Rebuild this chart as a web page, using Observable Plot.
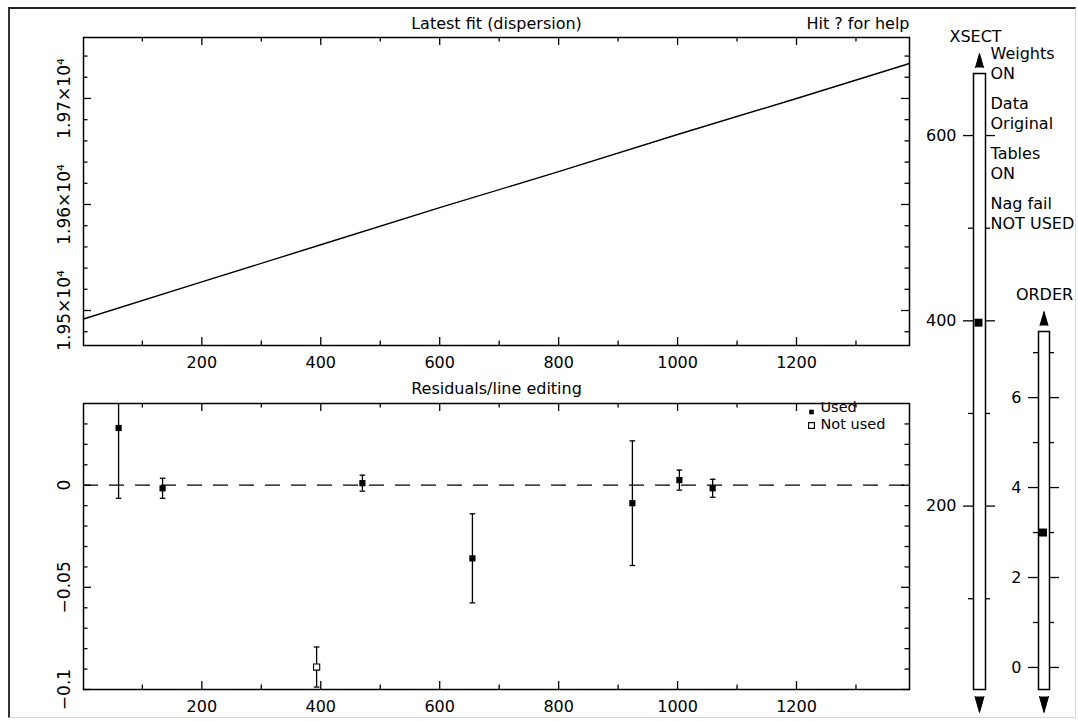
<!DOCTYPE html>
<html>
<head>
<meta charset="utf-8">
<script src="https://cdn.jsdelivr.net/npm/d3@7"></script>
<script src="https://cdn.jsdelivr.net/npm/@observablehq/plot@0.6"></script>
<style>
  body { margin: 0; background: #fff; }
  #chart { position: relative; width: 1078px; height: 721px; background: #fff; overflow: hidden; }
  #chart svg { position: absolute; left: 0; top: 0; }
  #border {
    position: absolute; left: 8px; top: 7px; width: 1068px; height: 711px; box-sizing: border-box;
    border-top: 2px solid #222; border-left: 2px solid #333;
    border-right: 1px solid #d8d8d8; border-bottom: 1px solid #d8d8d8;
  }
</style>
</head>
<body>
<div id="chart"><div id="border"></div></div>
<script>
// ---- dispersion fit (pixel -> wavelength) ----
const fitPixel = [1, 200, 400, 600, 800, 1000, 1200, 1390];
const fitWave = [19492, 19527, 19562, 19597, 19631, 19666, 19700, 19733];

// ---- arc-line residuals ----
const linePixel = [60, 134, 393, 470, 655, 924, 1003, 1059];
const lineResidual = [0.028, -0.0015, -0.089, 0.001, -0.0358, -0.0088, 0.0025, -0.0015];
const lineError = [0.0344, 0.0049, 0.0098, 0.0039, 0.0218, 0.0305, 0.0049, 0.0044];
const lineUsed = [true, true, false, true, true, true, true, true];

// ---- axis ticks ----
const pixelMajor = [200, 400, 600, 800, 1000, 1200];
const pixelMinor = [100, 300, 500, 700, 900, 1100, 1300];
const waveMajor = [19500, 19600, 19700];
const waveLabels = ["1.95×10⁴", "1.96×10⁴", "1.97×10⁴"];
const waveMinor = [19480, 19520, 19540, 19560, 19580, 19620, 19640, 19660, 19680, 19720, 19740];
const residMajor = [0, -0.05, -0.1];
const residLabels = ["0", "−0.05", "−0.1"];
const residMinor = [0.03, 0.02, 0.01, -0.01, -0.02, -0.03, -0.04, -0.06, -0.07, -0.08, -0.09];

// ---- side sliders ----
const xsectMajor = [200, 400, 600];
const xsectMinor = [100, 300, 500];
const xsectValue = 398;
const orderMajor = [0, 2, 4, 6];
const orderMinor = [1, 3, 5, 7];
const orderValue = 3;
const statusLines = [["Weights", "ON"], ["Data", "Original"], ["Tables", "ON"], ["Nag fail", "NOT USED"]];

const fitTable = fitPixel.map((p, i) => ({pixel: p, wave: fitWave[i]}));
const lineTable = linePixel.map((p, i) => ({pixel: p, resid: lineResidual[i], err: lineError[i], used: lineUsed[i]}));

const W = 1078, H = 721;
const PANEL_L = 83, PANEL_R = 909;
const style = {background: "transparent", fontFamily: "'DejaVu Sans', sans-serif", fontSize: "16px", color: "black", overflow: "visible"};
const SW = 1.3;

// inward ticks on all four sides of a panel
function panelTicks(xMaj, xMin, yMaj, yMin, fw, fh) {
  const MAJ = 8, MIN = 4.5;
  return [
    Plot.ruleX(xMaj, {x: d => d, insetTop: fh - MAJ, strokeWidth: SW}),
    Plot.ruleX(xMaj, {x: d => d, insetBottom: fh - MAJ, strokeWidth: SW}),
    Plot.ruleX(xMin, {x: d => d, insetTop: fh - MIN, strokeWidth: SW}),
    Plot.ruleX(xMin, {x: d => d, insetBottom: fh - MIN, strokeWidth: SW}),
    Plot.ruleY(yMaj, {y: d => d, insetRight: fw - MAJ, strokeWidth: SW}),
    Plot.ruleY(yMaj, {y: d => d, insetLeft: fw - MAJ, strokeWidth: SW}),
    Plot.ruleY(yMin, {y: d => d, insetRight: fw - MIN, strokeWidth: SW}),
    Plot.ruleY(yMin, {y: d => d, insetLeft: fw - MIN, strokeWidth: SW})
  ];
}

const chart = document.getElementById("chart");

// ---- upper panel: latest dispersion fit ----
{
  const top = 37, bottom = 345;
  chart.appendChild(Plot.plot({
    width: W, height: H,
    marginLeft: PANEL_L, marginRight: W - PANEL_R, marginTop: top, marginBottom: H - bottom,
    x: {domain: [1, 1390], axis: null},
    y: {domain: [19467, 19757.5], axis: null},
    style,
    marks: [
      Plot.line(fitTable, {x: "pixel", y: "wave", strokeWidth: 1.4}),
      ...panelTicks(pixelMajor, pixelMinor, waveMajor, waveMinor, PANEL_R - PANEL_L, bottom - top),
      Plot.frame({strokeWidth: 1.5}),
      Plot.text(pixelMajor, {x: d => d, text: d => String(d), frameAnchor: "bottom", dy: 17, lineAnchor: "middle"}),
      Plot.text(waveMajor, {y: d => d, text: (d, i) => waveLabels[i], frameAnchor: "left", dx: -18.5, rotate: -90, textAnchor: "middle", lineAnchor: "middle", fontSize: 17}),
      Plot.text(["Latest fit (dispersion)"], {text: d => d, frameAnchor: "top", dy: -13.5, lineAnchor: "middle"}),
      Plot.text(["Hit ? for help"], {text: d => d, frameAnchor: "top-right", textAnchor: "end", dy: -13.5, lineAnchor: "middle"})
    ]
  }));
}

// ---- lower panel: residuals / line editing ----
{
  const top = 403, bottom = 689;
  const cap = {draw(ctx) { ctx.moveTo(-2.8, 0); ctx.lineTo(2.8, 0); }};
  chart.appendChild(Plot.plot({
    width: W, height: H,
    marginLeft: PANEL_L, marginRight: W - PANEL_R, marginTop: top, marginBottom: H - bottom,
    x: {domain: [1, 1390], axis: null},
    y: {domain: [-0.1, 0.04], axis: null},
    style,
    marks: [
      Plot.ruleY([0], {strokeDasharray: "15 11", strokeWidth: SW}),
      Plot.ruleX(lineTable, {x: "pixel", y1: d => d.resid - d.err, y2: d => d.resid + d.err, strokeWidth: SW, clip: true}),
      Plot.dot(lineTable, {x: "pixel", y: d => d.resid - d.err, symbol: cap, stroke: "black", fill: "none", strokeWidth: SW, clip: true}),
      Plot.dot(lineTable, {x: "pixel", y: d => d.resid + d.err, symbol: cap, stroke: "black", fill: "none", strokeWidth: SW, clip: true}),
      Plot.dot(lineTable.filter(d => d.used), {x: "pixel", y: "resid", symbol: "square", r: 3.5, fill: "black"}),
      Plot.dot(lineTable.filter(d => !d.used), {x: "pixel", y: "resid", symbol: "square", r: 3.5, fill: "white", stroke: "black", strokeWidth: 1.1}),
      ...panelTicks(pixelMajor, pixelMinor, residMajor, residMinor, PANEL_R - PANEL_L, bottom - top),
      Plot.frame({strokeWidth: 1.5}),
      Plot.text(pixelMajor, {x: d => d, text: d => String(d), frameAnchor: "bottom", dy: 17, lineAnchor: "middle"}),
      Plot.text(residMajor, {y: d => d, text: (d, i) => residLabels[i], frameAnchor: "left", dx: -18.5, rotate: -90, textAnchor: "middle", lineAnchor: "middle", fontSize: 17}),
      Plot.text(["Residuals/line editing"], {text: d => d, frameAnchor: "top", dy: -14.5, lineAnchor: "middle"}),
      // key
      Plot.dot(["Used"], {frameAnchor: "top-right", dx: -98, dy: 8.5, symbol: "square", r: 2.6, fill: "black"}),
      Plot.text(["Used"], {text: d => d, frameAnchor: "top-right", textAnchor: "start", dx: -89, dy: 3.5, lineAnchor: "middle", fontSize: 14.5}),
      Plot.dot(["Not used"], {frameAnchor: "top-right", dx: -98, dy: 22, symbol: "square", r: 3.3, fill: "white", stroke: "black", strokeWidth: 1.1}),
      Plot.text(["Not used"], {text: d => d, frameAnchor: "top-right", textAnchor: "start", dx: -89, dy: 20.5, lineAnchor: "middle", fontSize: 14.5})
    ]
  }));
}

// slider: a bar with outward ticks, a position marker and scroll arrows
function slider({left, right, top, bottom, domain, major, minor, value, title, titleDx, extra = []}) {
  const arrow = {frameAnchor: "top", anchor: "start", shape: "spike", r: 4, length: 14, fill: "black", stroke: "black", strokeWidth: 1};
  return Plot.plot({
    width: W, height: H,
    marginLeft: left, marginRight: W - right, marginTop: top, marginBottom: H - bottom,
    y: {domain, axis: null},
    style,
    marks: [
      Plot.frame({stroke: "black", strokeWidth: 1.5, fill: "white"}),
      Plot.ruleY(major, {y: d => d, insetLeft: -10, insetRight: right - left, strokeWidth: SW}),
      Plot.ruleY(major, {y: d => d, insetLeft: right - left, insetRight: -10, strokeWidth: SW}),
      Plot.ruleY(minor, {y: d => d, insetLeft: -5, insetRight: right - left, strokeWidth: SW}),
      Plot.ruleY(minor, {y: d => d, insetLeft: right - left, insetRight: -5, strokeWidth: SW}),
      Plot.text(major, {y: d => d, text: d => String(d), frameAnchor: "left", textAnchor: "end", dx: -17, lineAnchor: "middle"}),
      Plot.dot([value], {y: d => d, symbol: "square", r: 4.5, fill: "black", dx: -1}),
      Plot.vector([0], {...arrow, dy: -6}),
      Plot.vector([0], {...arrow, frameAnchor: "bottom", rotate: 180, length: 16, r: 4.5, dy: 7}),
      Plot.text([title], {text: d => d, frameAnchor: "top", dx: titleDx, dy: -37, lineAnchor: "middle"}),
      ...extra
    ]
  });
}

// ---- cross-section slider with the status list ----
chart.appendChild(slider({
  left: 973, right: 985, top: 73, bottom: 689,
  domain: [2, 667], major: xsectMajor, minor: xsectMinor, value: xsectValue,
  title: "XSECT", titleDx: -4,
  extra: statusLines.map((pair, g) => Plot.text([pair.join("\n")], {
    text: d => d, frameAnchor: "top-right", textAnchor: "start", dx: 5, dy: -11 + 50 * g,
    lineAnchor: "middle", lineHeight: 1.25
  }))
}));

// ---- polynomial order slider ----
chart.appendChild(slider({
  left: 1038, right: 1049, top: 331, bottom: 689,
  domain: [-0.49, 7.47], major: orderMajor, minor: orderMinor, value: orderValue,
  title: "ORDER", titleDx: 0.5
}));
</script>
</body>
</html>
